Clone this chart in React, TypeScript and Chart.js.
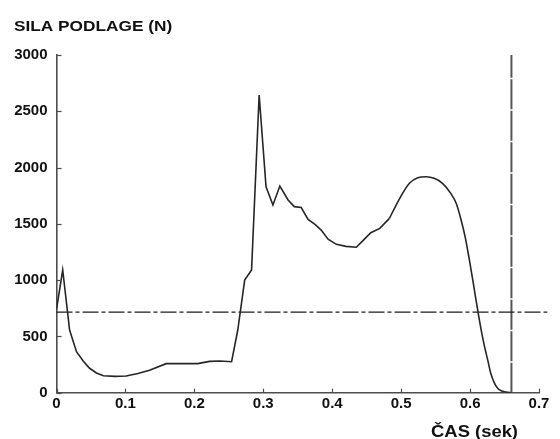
import React, { useEffect, useRef } from "react";
import { Chart, registerables } from "chart.js";

Chart.register(...registerables);

// ---- data ----
const timeS = [
  0, 0.009, 0.019, 0.029, 0.039, 0.048, 0.058, 0.068, 0.085, 0.101, 0.118, 0.135,
  0.159, 0.182, 0.205, 0.222, 0.237, 0.254, 0.263, 0.273, 0.283, 0.294, 0.304,
  0.314, 0.324, 0.336, 0.345, 0.355, 0.365, 0.375, 0.384, 0.394, 0.406, 0.42,
  0.435, 0.446, 0.456, 0.469, 0.483, 0.498, 0.512, 0.524, 0.536, 0.548, 0.56,
  0.572, 0.58, 0.587, 0.593, 0.599, 0.605, 0.611, 0.616, 0.621, 0.626, 0.63,
  0.635, 0.64, 0.646, 0.652, 0.66,
];
const forceN = [
  740, 1090, 557, 364, 280, 217, 175, 150, 145, 148, 170, 200,
  258, 258, 258, 278, 282, 275, 557, 1000, 1090, 2645, 1830,
  1668, 1836, 1712, 1653, 1645, 1540, 1495, 1445, 1363, 1318, 1300,
  1292, 1360, 1421, 1460, 1549, 1727, 1860, 1910, 1919, 1905, 1860,
  1771, 1680, 1534, 1380, 1179, 960, 735, 560, 409, 280, 172,
  90, 39, 15, 5, 0,
];
// index where the trace becomes a smooth hump (drawn with smoothing)
const smoothFromIndex = 38;

const bodyWeightN = 715;
const bodyWeightLineEndS = 0.712;
const takeoffS = 0.66;
const takeoffTopN = 3000;

const xTickValues = [0, 0.1, 0.2, 0.3, 0.4, 0.5, 0.6, 0.7];
const xTickLabels = ["0", "0.1", "0.2", "0.3", "0.4", "0.5", "0.6", "0.7"];
const yTickValues = [0, 500, 1000, 1500, 2000, 2500, 3000];
const yTickLabels = ["0", "500", "1000", "1500", "2000", "2500", "3000"];

const yAxisTitle = "SILA PODLAGE (N)";
const xAxisTitle = "ČAS (sek)";

const FONT = "'Liberation Sans', Arial, Helvetica, sans-serif";
const AXIS_COLOR = "#4d4d4d";
const TEXT_COLOR = "#111111";
const CURVE_COLOR = "#262626";

export default function App() {
  const canvasRef = useRef<HTMLCanvasElement>(null);

  useEffect(() => {
    if (!canvasRef.current) return;

    const points = timeS.map((t, i) => ({ x: t, y: forceN[i] }));

    const decorPlugin = {
      id: "decor",
      afterDraw(chart: any) {
        const ctx = chart.ctx as CanvasRenderingContext2D;
        const xs = chart.scales.x;
        const ys = chart.scales.y;
        ctx.save();
        // inward tick marks
        ctx.strokeStyle = AXIS_COLOR;
        ctx.lineWidth = 1.2;
        yTickValues.forEach((v) => {
          const py = Math.round(ys.getPixelForValue(v)) + 0.5;
          ctx.beginPath();
          ctx.moveTo(xs.left, py);
          ctx.lineTo(xs.left + 5, py);
          ctx.stroke();
        });
        xTickValues.forEach((v) => {
          const px = Math.round(xs.getPixelForValue(v)) + 0.5;
          ctx.beginPath();
          ctx.moveTo(px, ys.bottom);
          ctx.lineTo(px, ys.bottom - 4);
          ctx.stroke();
        });
        // titles
        ctx.fillStyle = TEXT_COLOR;
        ctx.textBaseline = "alphabetic";
        ctx.textAlign = "left";
        ctx.font = `bold 15px ${FONT}`;
        ctx.save();
        ctx.translate(14, 31);
        ctx.scale(1.15, 1);
        ctx.fillText(yAxisTitle, 0, 0);
        ctx.restore();
        ctx.save();
        ctx.font = `bold 16px ${FONT}`;
        ctx.textAlign = "right";
        ctx.translate(518, 437);
        ctx.scale(1.15, 1);
        ctx.fillText(xAxisTitle, 0, 0);
        ctx.restore();
        ctx.restore();
      },
    };

    const chart = new Chart(canvasRef.current, {
      type: "line",
      data: {
        datasets: [
          {
            label: "Sila podlage",
            data: points.slice(0, smoothFromIndex + 1),
            borderColor: CURVE_COLOR,
            borderWidth: 1.6,
            pointRadius: 0,
            tension: 0,
            fill: false,
          },
          {
            label: "Sila podlage (odriv)",
            data: points.slice(smoothFromIndex),
            borderColor: CURVE_COLOR,
            borderWidth: 1.6,
            pointRadius: 0,
            cubicInterpolationMode: "monotone",
            fill: false,
          },
          {
            label: "Teža telesa",
            data: [
              { x: 0, y: bodyWeightN },
              { x: bodyWeightLineEndS, y: bodyWeightN },
            ],
            borderColor: "#1e1e1e",
            borderWidth: 1.3,
            borderDash: [16, 3, 4, 3],
            pointRadius: 0,
            clip: false,
          },
          {
            label: "Odriv",
            data: [
              { x: takeoffS, y: 0 },
              { x: takeoffS, y: takeoffTopN },
            ],
            borderColor: "#555555",
            borderWidth: 2,
            borderDash: [30, 1.5],
            pointRadius: 0,
            clip: false,
          },
        ],
      },
      options: {
        animation: false,
        responsive: false,
        maintainAspectRatio: false,
        layout: { padding: { top: 55, right: 21, left: 0, bottom: 0 } },
        plugins: {
          legend: { display: false },
          tooltip: { enabled: false },
          title: { display: false },
        },
        scales: {
          x: {
            type: "linear",
            min: 0,
            max: 0.7,
            afterBuildTicks: (s: any) => {
              s.ticks = xTickValues.map((v) => ({ value: v }));
            },
            afterFit: (s: any) => {
              s.height = 46.3;
            },
            grid: { display: false, drawTicks: false },
            border: { display: true, color: AXIS_COLOR, width: 1.6 },
            ticks: {
              autoSkip: false,
              maxRotation: 0,
              padding: 2,
              color: TEXT_COLOR,
              font: { family: FONT, size: 15, weight: "bold" },
              callback: (_v: any, i: number) => xTickLabels[i],
            },
          },
          y: {
            type: "linear",
            min: 0,
            max: 3000,
            afterBuildTicks: (s: any) => {
              s.ticks = yTickValues.map((v) => ({ value: v }));
            },
            afterFit: (s: any) => {
              s.width = 56.5;
            },
            grid: { display: false, drawTicks: false },
            border: { display: true, color: AXIS_COLOR, width: 1.6 },
            ticks: {
              autoSkip: false,
              padding: 9,
              color: TEXT_COLOR,
              font: { family: FONT, size: 15, weight: "bold" },
              callback: (_v: any, i: number) => yTickLabels[i],
            },
          },
        },
      },
      plugins: [decorPlugin],
    } as any);

    return () => chart.destroy();
  }, []);

  return (
    <div style={{ position: "absolute", left: 0, top: 0, width: 560, height: 439, background: "#fff" }}>
      <canvas ref={canvasRef} width={560} height={439} style={{ display: "block" }} />
    </div>
  );
}
